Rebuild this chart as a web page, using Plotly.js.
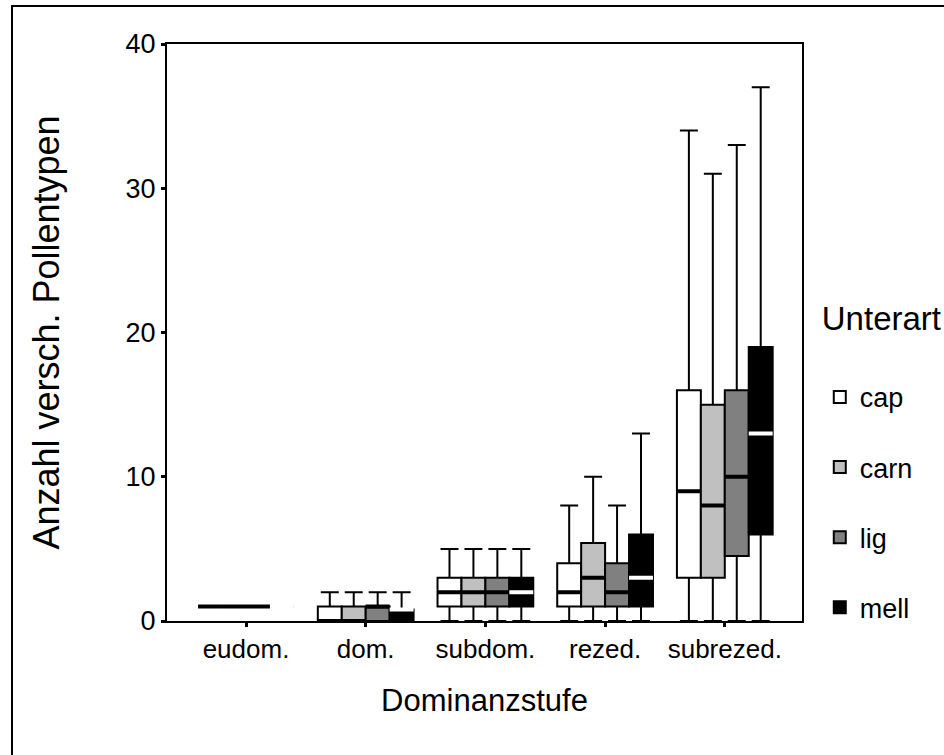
<!DOCTYPE html>
<html>
<head>
<meta charset="utf-8">
<script src="https://cdn.plot.ly/plotly-3.0.1.min.js"></script>
<style>
  html, body { margin: 0; padding: 0; background: #fff; }
  #wrap { position: relative; width: 944px; height: 755px; overflow: hidden; }
  #chart { position: absolute; left: 0; top: 0; width: 944px; height: 755px; }
  #frame { position: absolute; left: 11px; top: 5px; width: 1000px; height: 1000px;
           border-left: 2px solid #000; border-top: 2px solid #000; pointer-events: none; }
</style>
</head>
<body>
<div id="wrap">
  <div id="chart"></div>
  <div id="frame"></div>
</div>
<script>
// Categories (Dominanzstufe)
const categories = ['eudom.', 'dom.', 'subdom.', 'rezed.', 'subrezed.'];
const seriesNames = ['cap', 'carn', 'lig', 'mell'];

// Box statistics per Unterart, one value per category
const capLower  = [1, 0, 0, 0, 0];
const capQ1     = [1, 0, 1, 1, 3];
const capMedian = [1, 0, 2, 2, 9];
const capQ3     = [1, 1, 3, 4, 16];
const capUpper  = [1, 2, 5, 8, 34];

const carnLower  = [1, 0, 0, 0, 0];
const carnQ1     = [1, 0, 1, 1, 3];
const carnMedian = [1, 0, 2, 3, 8];
const carnQ3     = [1, 1, 3, 5.4, 15];
const carnUpper  = [1, 2, 5, 10, 31];

const ligLower  = [1, 0, 0, 0, 0];
const ligQ1     = [1, 0, 1, 1, 4.5];
const ligMedian = [1, 1, 2, 2, 10];
const ligQ3     = [1, 1, 3, 4, 16];
const ligUpper  = [1, 2, 5, 8, 33];

const mellLower  = [1, 0, 0, 0, 0];
const mellQ1     = [1, 0, 1, 1, 6];
const mellMedian = [1, 0.8, 2, 3, 13];
const mellQ3     = [1, 0.8, 3, 6, 19];
const mellUpper  = [1, 2, 5, 13, 37];

const stats = {
  cap:  {lf: capLower,  q1: capQ1,  med: capMedian,  q3: capQ3,  uf: capUpper},
  carn: {lf: carnLower, q1: carnQ1, med: carnMedian, q3: carnQ3, uf: carnUpper},
  lig:  {lf: ligLower,  q1: ligQ1,  med: ligMedian,  q3: ligQ3,  uf: ligUpper},
  mell: {lf: mellLower, q1: mellQ1, med: mellMedian, q3: mellQ3, uf: mellUpper}
};
const fills = {cap: '#ffffff', carn: '#c0c0c0', lig: '#808080', mell: '#000000'};
const medianColors = {cap: '#000000', carn: '#000000', lig: '#000000', mell: '#ffffff'};

const FONT = 'Liberation Sans, Arial, Helvetica, sans-serif';
const traces = [];
seriesNames.forEach(function (s) {
  const d = stats[s];
  traces.push({
    type: 'box', name: s, x: categories,
    lowerfence: d.lf, q1: d.q1, median: d.med, q3: d.q3, upperfence: d.uf,
    fillcolor: fills[s], line: {color: '#000000', width: 2},
    whiskerwidth: 0.75, offsetgroup: s, legendgroup: s,
    hoverinfo: 'skip', boxpoints: false
  });
});
// thick median overlays (same position group)
seriesNames.forEach(function (s) {
  const d = stats[s];
  traces.push({
    type: 'box', name: s + ' median', x: categories,
    lowerfence: d.med, q1: d.med, median: d.med, q3: d.med, upperfence: d.med,
    fillcolor: 'rgba(0,0,0,0)', line: {color: medianColors[s], width: 4},
    whiskerwidth: 0, offsetgroup: s, legendgroup: s, showlegend: false,
    hoverinfo: 'skip', boxpoints: false
  });
});

const layout = {
  width: 944, height: 755,
  margin: {l: 167, r: 142, t: 44, b: 134, autoexpand: false},
  paper_bgcolor: '#ffffff', plot_bgcolor: '#ffffff',
  font: {family: FONT, color: '#000000'},
  boxmode: 'group', boxgap: 0.2, boxgroupgap: 0,
  showlegend: true,
  legend: {
    x: 1.028, xanchor: 'left', y: 0.5787, yanchor: 'top',
    title: {text: 'Unterart<br> ', font: {size: 33, family: FONT}},
    font: {size: 27, family: FONT},
    tracegroupgap: 32, bgcolor: 'rgba(0,0,0,0)'
  },
  xaxis: {
    type: 'category', range: [-0.66, 4.645],
    showline: true, linecolor: '#000000', linewidth: 2, mirror: true,
    ticks: 'outside', ticklen: 4, tickwidth: 3, tickcolor: '#000000',
    tickfont: {size: 26, family: FONT},
    showgrid: false, zeroline: false,
    title: {text: 'Dominanzstufe', font: {size: 31, family: FONT}, standoff: 26}
  },
  yaxis: {
    range: [0, 40], tickvals: [0, 10, 20, 30, 40],
    showline: true, linecolor: '#000000', linewidth: 2, mirror: true,
    ticks: 'outside', ticklen: 4, tickwidth: 3, tickcolor: '#000000',
    tickfont: {size: 27, family: FONT},
    showgrid: false, zeroline: false,
    title: {text: 'Anzahl versch. Pollentypen', font: {size: 36, family: FONT}, standoff: 55}
  }
};

Plotly.newPlot('chart', traces, layout, {displayModeBar: false, staticPlot: true});
</script>
</body>
</html>
